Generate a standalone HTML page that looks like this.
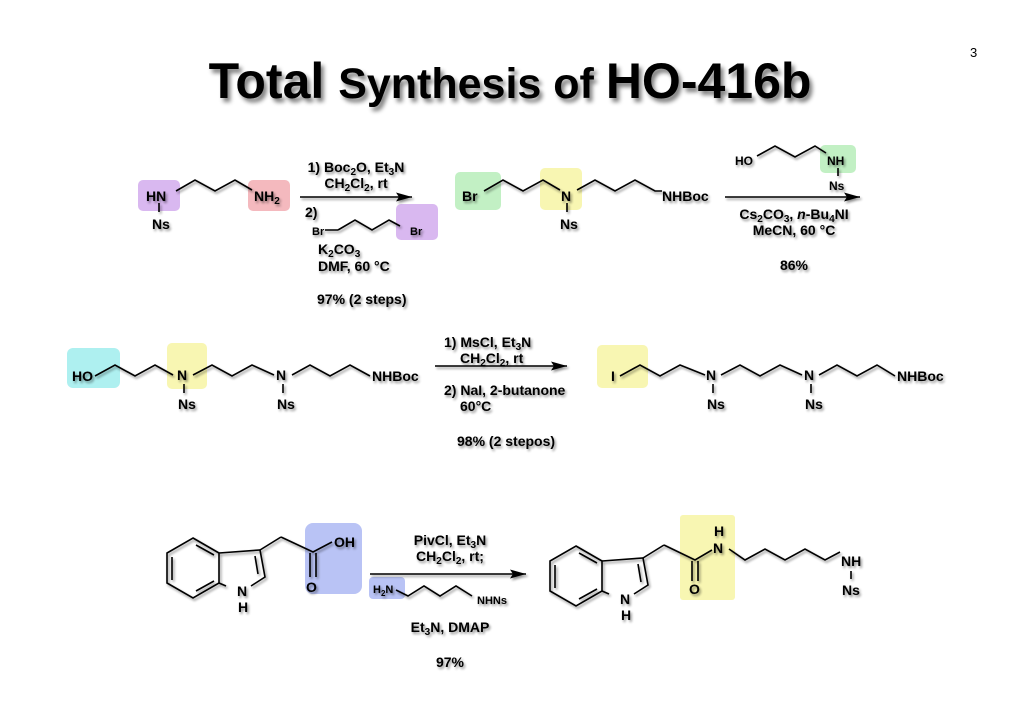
<!DOCTYPE html>
<html><head><meta charset="utf-8"><style>
html,body{margin:0;padding:0;background:#fff;}
svg{display:block;}
text{font-family:"Liberation Sans",Arial,sans-serif;font-weight:bold;fill:#000;}
.t{font-size:14px;}
</style></head><body>
<svg width="1024" height="724" viewBox="0 0 1024 724" xmlns="http://www.w3.org/2000/svg">
<defs>
<filter id="sh" x="-10%" y="-10%" width="130%" height="140%"><feGaussianBlur in="SourceAlpha" stdDeviation="1.2"/><feOffset dx="1.5" dy="2" result="b"/><feComponentTransfer><feFuncA type="linear" slope="0.45"/></feComponentTransfer><feMerge><feMergeNode/><feMergeNode in="SourceGraphic"/></feMerge></filter>
<filter id="tsh" x="-10%" y="-10%" width="130%" height="140%"><feGaussianBlur in="SourceAlpha" stdDeviation="2"/><feOffset dx="3" dy="4" result="b"/><feComponentTransfer><feFuncA type="linear" slope="0.5"/></feComponentTransfer><feMerge><feMergeNode/><feMergeNode in="SourceGraphic"/></feMerge></filter>
<marker id="ah" markerWidth="16" markerHeight="9" refX="16" refY="4.5" orient="auto" markerUnits="userSpaceOnUse"><path d="M0,0 L16,4.5 L0,9 L3,4.5 z" fill="#000"/></marker>
<g id="indole" fill="none" stroke="#000" stroke-width="1.6">
<path d="M193,538 L219,553 L219,583 L193,598 L167,583 L167,553 Z"/>
<path d="M172,557 L172,580 M196,545 L214,555 M196,591 L214,581"/>
<path d="M219,553 L260,550 L265,577 L251,586 M226,586 L219,583 M255,556 L258,574"/>
<path d="M260,550 L281,537"/>
</g>
</defs>

<g>
<rect x="138" y="180" width="42" height="31" rx="5" fill="#d9b8f0"/>
<rect x="248" y="180" width="42" height="31" rx="5" fill="#f4b9be"/>
<rect x="396" y="204" width="42" height="36" rx="5" fill="#d9b8f0"/>
<rect x="455" y="172" width="46" height="38" rx="5" fill="#c2f0c4"/>
<rect x="540" y="168" width="42" height="42" rx="5" fill="#f8f6b2"/>
<rect x="820" y="145" width="36" height="28" rx="5" fill="#c2f0c4"/>
<rect x="67" y="348" width="53" height="40" rx="6" fill="#aef0f0"/>
<rect x="167" y="343" width="40" height="46" rx="5" fill="#f8f6b2"/>
<rect x="597" y="345" width="51" height="43" rx="5" fill="#f8f6b2"/>
<rect x="305" y="523" width="57" height="71" rx="8" fill="#b9c3f5"/>
<rect x="369" y="577" width="36" height="22" rx="4" fill="#b9c3f5"/>
<rect x="680" y="515" width="55" height="85" rx="3" fill="#f8f6b2"/>
</g>

<text x="970" y="57" style="font-size:13px;font-weight:normal">3</text>
<text x="510" y="98" text-anchor="middle" filter="url(#tsh)"><tspan style="font-size:50px">Total </tspan><tspan style="font-size:43px">Synthesis of </tspan><tspan style="font-size:50px">HO-416b</tspan></text>

<g filter="url(#sh)">
<g fill="none" stroke="#000" stroke-width="1.6">
<path d="M176,191 L195,180 L215,191 L235,180 L252,190"/>
<path d="M159,203 L159,212"/>
<path d="M338,230 L355,220 L372,230 L389,220 L400,226 M325,230 L338,230"/>
<path d="M484,191 L503,180 L523,191 L543,180 L560,190"/>
<path d="M567,203 L567,212 M577,190 L595,180 L615,191 L635,180 L655,191 L662,191"/>
<path d="M757,156 L775,146 L795,157 L815,146 L826,153 M838,168 L838,176"/>
<path d="M95,376 L115,365 L135,376 L155,365 L173,375 M184,384 L184,393 M193,375 L212,365 L232,376 L252,365 L274,375 M283,384 L283,393 M292,375 L310,365 L330,376 L350,365 L370,376"/>
<path d="M620,376 L640,365 L660,376 L680,365 L705,375 M713,384 L713,393 M721,375 L740,365 L760,376 L780,365 L802,375 M811,384 L811,393 M819,375 L837,365 L857,376 L877,365 L895,376"/>
<path d="M281,537 L313,552 L332,542 M310,553 L310,577 M316,553 L316,577"/>
<path d="M396,590 L408,596 L424,586 L440,596 L456,586 L472,596"/>
<path d="M664,545 L695,560 L712,550 M692,561 L692,581 M698,561 L698,581 M729,549 L745,560 L765,549 L785,560 L805,549 L825,560 L840,552 M851,571 L851,579"/>
</g>
<use href="#indole"/>
<use href="#indole" transform="translate(383,8)"/>

<g stroke="#000" stroke-width="1.6" marker-end="url(#ah)">
<line x1="300" y1="197" x2="412" y2="197"/>
<line x1="725" y1="197" x2="860" y2="197"/>
<line x1="435" y1="366" x2="567" y2="366"/>
<line x1="370" y1="574" x2="526" y2="574"/>
</g>

<g class="t" style="font-size:14px">
<text x="146" y="201">HN</text><text x="152" y="229">Ns</text>
<text x="254" y="201">NH<tspan dy="3" style="font-size:10px">2</tspan></text>
<text x="356" y="172" text-anchor="middle">1) Boc<tspan dy="3" style="font-size:10px">2</tspan><tspan dy="-3">O, Et</tspan><tspan dy="3" style="font-size:10px">3</tspan><tspan dy="-3">N</tspan></text>
<text x="356" y="188" text-anchor="middle">CH<tspan dy="3" style="font-size:10px">2</tspan><tspan dy="-3">Cl</tspan><tspan dy="3" style="font-size:10px">2</tspan><tspan dy="-3">, rt</tspan></text>
<text x="305" y="217">2)</text>
<text x="312" y="235" style="font-size:11px">Br</text><text x="410" y="235" style="font-size:11px">Br</text>
<text x="318" y="254">K<tspan dy="3" style="font-size:10px">2</tspan><tspan dy="-3">CO</tspan><tspan dy="3" style="font-size:10px">3</tspan></text>
<text x="318" y="271">DMF, 60 °C</text>
<text x="317" y="304">97% (2 steps)</text>
<text x="462" y="201">Br</text>
<text x="561" y="201">N</text><text x="560" y="229">Ns</text>
<text x="662" y="201">NHBoc</text>
<text x="735" y="165" style="font-size:12px">HO</text>
<text x="827" y="165" style="font-size:12px">NH</text><text x="829" y="190" style="font-size:12px">Ns</text>
<text x="794" y="219" text-anchor="middle">Cs<tspan dy="3" style="font-size:10px">2</tspan><tspan dy="-3">CO</tspan><tspan dy="3" style="font-size:10px">3</tspan><tspan dy="-3">, </tspan><tspan font-style="italic">n</tspan>-Bu<tspan dy="3" style="font-size:10px">4</tspan><tspan dy="-3">NI</tspan></text>
<text x="794" y="235" text-anchor="middle">MeCN, 60 °C</text>
<text x="794" y="270" text-anchor="middle">86%</text>

<text x="72" y="381">HO</text>
<text x="177" y="380">N</text><text x="178" y="409">Ns</text>
<text x="276" y="380">N</text><text x="277" y="409">Ns</text>
<text x="372" y="381">NHBoc</text>
<text x="444" y="347">1) MsCl, Et<tspan dy="3" style="font-size:10px">3</tspan><tspan dy="-3">N</tspan></text>
<text x="460" y="363">CH<tspan dy="3" style="font-size:10px">2</tspan><tspan dy="-3">Cl</tspan><tspan dy="3" style="font-size:10px">2</tspan><tspan dy="-3">, rt</tspan></text>
<text x="444" y="395">2) NaI, 2-butanone</text>
<text x="460" y="411">60°C</text>
<text x="457" y="446">98% (2 stepos)</text>
<text x="611" y="381">I</text>
<text x="706" y="380">N</text><text x="707" y="409">Ns</text>
<text x="804" y="380">N</text><text x="805" y="409">Ns</text>
<text x="897" y="381">NHBoc</text>

<text x="334" y="547">OH</text>
<text x="306" y="592">O</text>
<text x="237" y="596">N</text><text x="238" y="612">H</text>
<text x="450" y="545" text-anchor="middle">PivCl, Et<tspan dy="3" style="font-size:10px">3</tspan><tspan dy="-3">N</tspan></text>
<text x="450" y="561" text-anchor="middle">CH<tspan dy="3" style="font-size:10px">2</tspan><tspan dy="-3">Cl</tspan><tspan dy="3" style="font-size:10px">2</tspan><tspan dy="-3">, rt;</tspan></text>
<text x="373" y="593" style="font-size:11px">H<tspan dy="3" style="font-size:8px">2</tspan><tspan dy="-3">N</tspan></text>
<text x="477" y="604" style="font-size:11px">NHNs</text>
<text x="450" y="632" text-anchor="middle">Et<tspan dy="3" style="font-size:10px">3</tspan><tspan dy="-3">N, DMAP</tspan></text>
<text x="450" y="667" text-anchor="middle">97%</text>

<text x="689" y="594">O</text>
<text x="713" y="553">N</text><text x="714" y="536">H</text>
<text x="620" y="604">N</text><text x="621" y="620">H</text>
<text x="841" y="566">NH</text><text x="842" y="595">Ns</text>
</g>
</g>
</svg>
</body></html>
